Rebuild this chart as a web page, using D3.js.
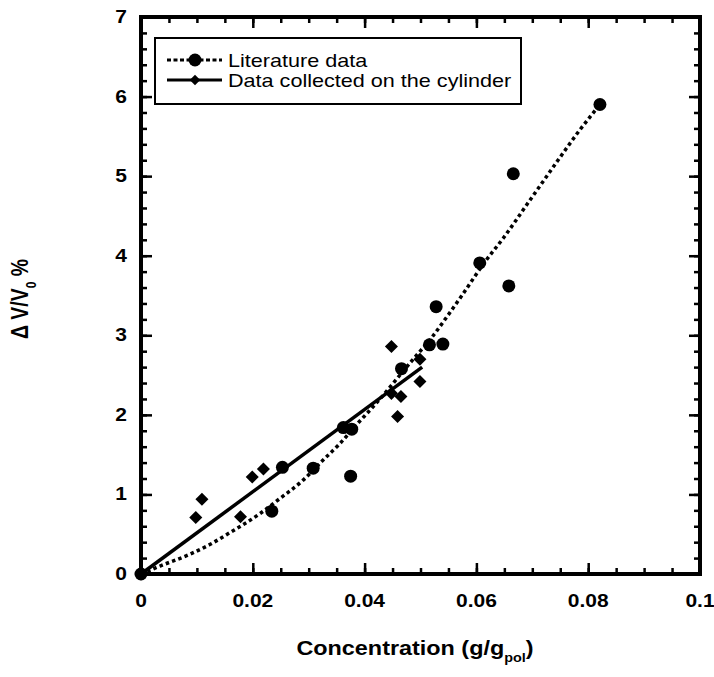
<!DOCTYPE html>
<html>
<head>
<meta charset="utf-8">
<script src="https://cdn.jsdelivr.net/npm/d3@7"></script>
<style>
  body { margin: 0; background: #fff; }
  text { font-family: "Liberation Sans", Arial, sans-serif; fill: #000; }
</style>
</head>
<body>
<div id="chart"></div>
<script>
// literature data (circles)
const litX = [0, 0.0234, 0.0253, 0.0308, 0.0362, 0.0377, 0.0375, 0.0466, 0.0516, 0.0540, 0.0528, 0.0606, 0.0658, 0.0666, 0.0821];
const litY = [0, 0.79, 1.34, 1.33, 1.84, 1.82, 1.23, 2.58, 2.88, 2.89, 3.36, 3.91, 3.62, 5.03, 5.90];
// dotted trend of the literature data
const litCurveX = [0, 0.0034, 0.0088, 0.0123, 0.0159, 0.0213, 0.0245, 0.0290, 0.0324, 0.0356, 0.0386, 0.0415, 0.0487, 0.0521, 0.0547, 0.0574, 0.0615, 0.0648, 0.0696, 0.0744, 0.0785, 0.0821];
const litCurveY = [0, 0.10, 0.25, 0.37, 0.52, 0.76, 0.93, 1.18, 1.42, 1.64, 1.88, 2.10, 2.70, 2.98, 3.23, 3.50, 3.92, 4.22, 4.70, 5.18, 5.58, 5.90];
// data collected on the cylinder (diamonds)
const cylX = [0, 0.0098, 0.0109, 0.0178, 0.0199, 0.0219, 0.0448, 0.0499, 0.0499, 0.0448, 0.0465, 0.0459];
const cylY = [0, 0.71, 0.94, 0.72, 1.22, 1.32, 2.86, 2.70, 2.42, 2.27, 2.23, 1.98];
const cylFitX = [0, 0.0503];
const cylFitY = [0, 2.60];

const xTicks = [0, 0.02, 0.04, 0.06, 0.08, 0.1];
const xTickLabels = ["0", "0.02", "0.04", "0.06", "0.08", "0.1"];
const yTicks = [0, 1, 2, 3, 4, 5, 6, 7];
const seriesNames = ["Literature data", "Data collected on the cylinder"];

const W = 714, H = 677;
const plot = { left: 141, right: 700, top: 17, bottom: 574 };
const sx = 1.2; // the picture is stretched horizontally

const svg = d3.select("#chart").append("svg").attr("width", W).attr("height", H);

const x = d3.scaleLinear().domain([0, 0.1]).range([plot.left, plot.right]);
const y = d3.scaleLinear().domain([0, 7]).range([plot.bottom, plot.top]);

function stretchText(g, px, py, str, size, weight, anchor) {
    return g.append("text")
        .attr("transform", `translate(${px},${py}) scale(${sx},1)`)
        .attr("text-anchor", anchor || "start")
        .style("font-size", size + "px")
        .style("font-weight", weight || "normal")
        .text(str);
}

// ticks on all four sides, pointing inward
const xMinor = d3.range(0, 0.1001, 0.005);
const yMinor = d3.range(0, 7.001, 0.2);
const axes = [
    { gen: d3.axisBottom(x), t: `translate(0,${plot.bottom})`, sign: -1, minor: xMinor, major: xTicks },
    { gen: d3.axisTop(x), t: `translate(0,${plot.top})`, sign: -1, minor: xMinor, major: xTicks },
    { gen: d3.axisLeft(y), t: `translate(${plot.left},0)`, sign: -1, minor: yMinor, major: yTicks },
    { gen: d3.axisRight(y), t: `translate(${plot.right},0)`, sign: -1, minor: yMinor, major: yTicks },
];
axes.forEach((a) => {
    const gMinor = svg.append("g").attr("transform", a.t)
        .call(a.gen.tickValues(a.minor).tickSize(-6).tickFormat(""));
    const gMajor = svg.append("g").attr("transform", a.t)
        .call(a.gen.tickValues(a.major).tickSize(-11).tickFormat(""));
    [gMinor, gMajor].forEach((g) => {
        g.select(".domain").remove();
        g.selectAll(".tick line").attr("stroke", "#000").attr("stroke-width", 2.5);
    });
});

// frame
svg.append("rect")
    .attr("x", plot.left).attr("y", plot.top)
    .attr("width", plot.right - plot.left).attr("height", plot.bottom - plot.top)
    .attr("fill", "none").attr("stroke", "#000").attr("stroke-width", 4);

// tick labels
xTicks.forEach((v, i) => stretchText(svg, x(v), 607, xTickLabels[i], 17.5, "bold", "middle"));
yTicks.forEach((v) => stretchText(svg, 127, y(v) + 6, String(v), 17.5, "bold", "end"));

// axis titles
const xt = stretchText(svg, 415, 655, "Concentration (g/g", 19.5, "bold", "middle");
xt.append("tspan").attr("dy", 7).style("font-size", "12px").text("pol");
xt.append("tspan").attr("dy", -7).text(")");

const yt = svg.append("text")
    .attr("transform", `translate(28,299) scale(${sx},1) rotate(-90)`)
    .attr("text-anchor", "middle")
    .style("font-size", "19.5px").style("font-weight", "bold");
yt.append("tspan").text("\u0394 V/V");
yt.append("tspan").attr("dy", 7).style("font-size", "12px").text("0");
yt.append("tspan").attr("dy", -7).text(" %");

// lines
const line = d3.line().x((d) => x(d[0])).y((d) => y(d[1]));
svg.append("path")
    .datum(litCurveX.map((v, i) => [v, litCurveY[i]]))
    .attr("d", line.curve(d3.curveMonotoneX))
    .attr("fill", "none").attr("stroke", "#000")
    .attr("stroke-width", 3.5).attr("stroke-dasharray", "3.5,3.2");
svg.append("path")
    .datum(cylFitX.map((v, i) => [v, cylFitY[i]]))
    .attr("d", d3.line().x((d) => x(d[0])).y((d) => y(d[1])))
    .attr("fill", "none").attr("stroke", "#000").attr("stroke-width", 3.5);

// markers
const diamond = d3.symbol().type(d3.symbolSquare).size(85);
svg.selectAll(".cyl").data(cylX.map((v, i) => [v, cylY[i]]))
    .join("path").attr("class", "cyl")
    .attr("d", diamond)
    .attr("transform", (d) => `translate(${x(d[0])},${y(d[1])}) rotate(45)`)
    .attr("fill", "#000");
svg.selectAll(".lit").data(litX.map((v, i) => [v, litY[i]]))
    .join("circle").attr("class", "lit")
    .attr("cx", (d) => x(d[0])).attr("cy", (d) => y(d[1]))
    .attr("r", 6.5).attr("fill", "#000");

// legend
const lg = svg.append("g");
lg.append("rect").attr("x", 155).attr("y", 38).attr("width", 366).attr("height", 66)
    .attr("fill", "#fff").attr("stroke", "#000").attr("stroke-width", 2);
[60, 80].forEach((ly, i) => {
    lg.append("line").attr("x1", 167).attr("x2", 222).attr("y1", ly).attr("y2", ly)
        .attr("stroke", "#000").attr("stroke-width", 3)
        .attr("stroke-dasharray", i === 0 ? "4,2.5" : null);
    if (i === 0) {
        lg.append("circle").attr("cx", 195).attr("cy", ly).attr("r", 6.5).attr("fill", "#000");
    } else {
        lg.append("path").attr("d", d3.symbol().type(d3.symbolSquare).size(55))
            .attr("transform", `translate(195,${ly}) rotate(45)`).attr("fill", "#000");
    }
    stretchText(lg, 228, ly + 6.5, seriesNames[i], 18, "normal", "start");
});
</script>
</body>
</html>
